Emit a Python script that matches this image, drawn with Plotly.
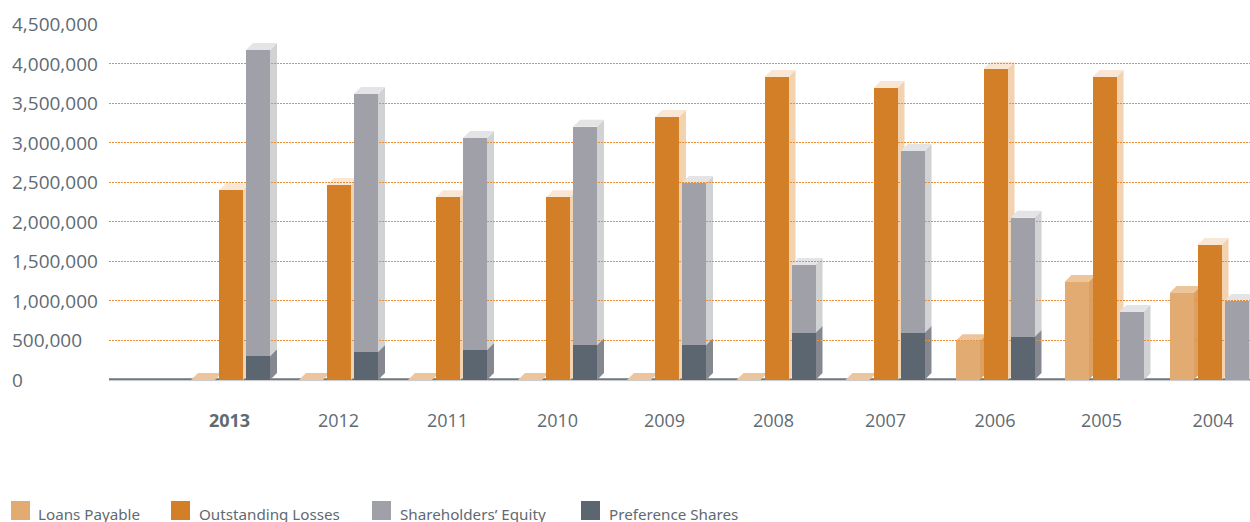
import plotly.graph_objects as go

# ---------- data ----------
years = ["2013", "2012", "2011", "2010", "2009", "2008", "2007", "2006", "2005", "2004"]
loans_payable = [0, 0, 0, 0, 0, 0, 0, 490000, 1240000, 1100000]
outstanding_losses = [2400000, 2465000, 2310000, 2310000, 3325000, 3830000, 3690000, 3930000, 3830000, 1705000]
preference_shares = [300000, 355000, 380000, 440000, 440000, 595000, 595000, 545000, 0, 0]
shareholders_equity = [3870000, 3260000, 2680000, 2760000, 2050000, 860000, 2300000, 1505000, 860000, 1000000]
y_ticks = [0, 500000, 1000000, 1500000, 2000000, 2500000, 3000000, 3500000, 4000000, 4500000]
legend_names = ["Loans Payable", "Outstanding Losses", "Shareholders\u2019 Equity", "Preference Shares"]

# ---------- styling / layout constants ----------
W, H = 1250, 522
PLOT_L, PLOT_T, PLOT_B = 109, 24, 380
GROUP_PX = [231, 339, 448, 558, 667, 776.5, 885.5, 995.5, 1104.5, 1209.5]
LABEL_PX = [229.5, 338.5, 447.5, 557.5, 664.5, 773.5, 885.5, 995, 1101.5, 1213]
BAR_W = 24.0
DX = 7.0
DY = 7.0 * 4500000 / (PLOT_B - PLOT_T)
TEXT = "#5f6a72"
C = {
    "loans": dict(front="#e1ab71", side="#dca063", top="#ecc59c"),
    "loss": dict(front="#d37f27", side="#f3d2b0", top="#fae6d4"),
    "equity": dict(front="#9fa0a8", side="#d1d2d4", top="#e4e4e6"),
    "pref": dict(front="#5b6670", side="#85898f", top="#85898f"),
}

fig = go.Figure()
shapes = []


def poly(x0, y0, x1, y1, x2, y2, x3, y3, color):
    shapes.append(dict(
        type="path", xref="x", yref="y", layer="below", fillcolor=color,
        line=dict(width=0),
        path=f"M{x0},{y0} L{x1},{y1} L{x2},{y2} L{x3},{y3} Z",
    ))


def add_series(name, values, offset, style, base=None):
    b = base if base is not None else [0] * len(values)
    for c, v, b0 in zip(GROUP_PX, values, b):
        if v == 0 and base is not None:
            continue
        x = c + offset - BAR_W / 2
        poly(x + BAR_W, b0, x + BAR_W + DX, b0 + DY, x + BAR_W + DX, b0 + v + DY, x + BAR_W, b0 + v, style["side"])
        poly(x, b0 + v, x + DX, b0 + v + DY, x + BAR_W + DX, b0 + v + DY, x + BAR_W, b0 + v, style["top"])
    fig.add_trace(go.Bar(
        name=name, x=GROUP_PX, y=values, base=b, width=BAR_W, offset=offset - BAR_W / 2,
        marker=dict(color=style["front"], line=dict(width=0)), showlegend=False,
    ))


add_series(legend_names[0], loans_payable, -28, C["loans"])
add_series(legend_names[1], outstanding_losses, 0, C["loss"])
add_series(legend_names[3], preference_shares, 27, C["pref"])
add_series(legend_names[2], shareholders_equity, 27, C["equity"], base=preference_shares)

annotations = []
for t in y_ticks:
    annotations.append(dict(
        xref="paper", yref="y", x=10 / W, y=t, xanchor="left", yanchor="middle", showarrow=False,
        text=f"{t:,}", font=dict(family="Open Sans", size=19, color=TEXT),
    ))

# baseline: dark rule with a light rule beneath
shapes.append(dict(type="line", xref="paper", yref="paper", layer="below",
                   x0=PLOT_L / W, x1=1, y0=1 - 379.2 / H, y1=1 - 379.2 / H,
                   line=dict(color="#6e777e", width=2)))
shapes.append(dict(type="line", xref="paper", yref="paper", layer="below",
                   x0=PLOT_L / W, x1=1, y0=1 - 380.6 / H, y1=1 - 380.6 / H,
                   line=dict(color="#c9ccd0", width=1)))

# legend keys
legend_colors = [C["loans"]["front"], C["loss"]["front"], C["equity"]["front"], C["pref"]["front"]]
legend_swatch_px = [11, 171, 372, 581]
legend_text_px = [37, 198, 399, 608]
for name, col, sx, tx in zip(legend_names, legend_colors, legend_swatch_px, legend_text_px):
    shapes.append(dict(type="rect", xref="paper", yref="paper", x0=sx / W, x1=(sx + 19) / W,
                       y0=1 - 520 / H, y1=1 - 501 / H, fillcolor=col, line=dict(width=0)))
    annotations.append(dict(
        xref="paper", yref="paper", x=(tx - 1) / W, y=1 - 514 / H, xanchor="left", yanchor="middle",
        showarrow=False, text=name, font=dict(family="Noto Sans", size=15.2, color=TEXT),
    ))

fig.update_layout(
    width=W, height=H, margin=dict(l=0, r=0, t=0, b=0, pad=0, autoexpand=False),
    paper_bgcolor="white", plot_bgcolor="white", barmode="overlay", bargap=0,
    shapes=shapes, annotations=annotations, showlegend=False,
    xaxis=dict(
        domain=[PLOT_L / W, 1],
        range=[PLOT_L, W],
        tickmode="array", tickvals=LABEL_PX,
        ticktext=[f"<b>{y}</b>" if i == 0 else y for i, y in enumerate(years)],
        tickfont=dict(family="Open Sans", size=18, color=TEXT),
        ticks="outside", ticklen=24, tickcolor="rgba(0,0,0,0)",
        showgrid=False, zeroline=False, showline=False,
        layer="below traces",
    ),
    yaxis=dict(
        domain=[1 - PLOT_B / H, 1 - PLOT_T / H],
        range=[0, 4500000], tickmode="array", tickvals=y_ticks, showticklabels=False,
        showgrid=True, gridcolor="#e98f38", griddash="1.5px,1.5px", gridwidth=1,
        zeroline=False, showline=False, ticks="",
    ),
    font=dict(family="Open Sans", color=TEXT),
)

fig.write_html("out.html", config=dict(displayModeBar=False),
               post_script="document.body.style.margin='0';document.body.style.overflow='hidden';")
